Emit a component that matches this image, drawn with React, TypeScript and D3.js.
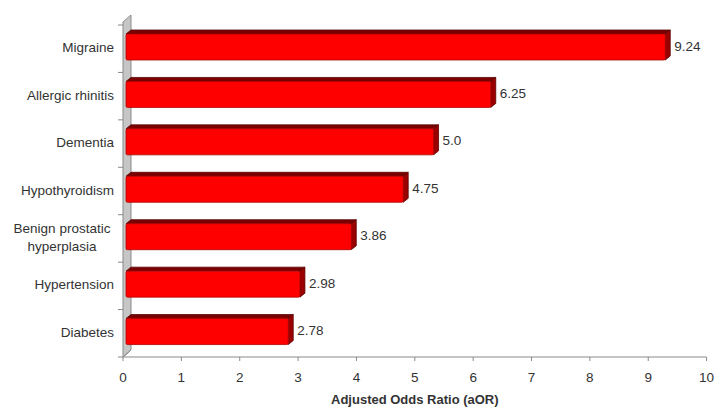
import React from "react";
import * as d3 from "d3";

const categories = [
  "Migraine",
  "Allergic rhinitis",
  "Dementia",
  "Hypothyroidism",
  "Benign prostatic\nhyperplasia",
  "Hypertension",
  "Diabetes",
];
// bar lengths as drawn in the picture
const values = [9.24, 6.25, 5.27, 4.75, 3.86, 2.98, 2.78];
// value labels as printed in the picture
const valueLabels = ["9.24", "6.25", "5.0", "4.75", "3.86", "2.98", "2.78"];
const xTicks = [0, 1, 2, 3, 4, 5, 6, 7, 8, 9, 10];
const xTitle = "Adjusted Odds Ratio (aOR)";

const W = 715;
const H = 410;
const FONT = "'Liberation Sans', Arial, sans-serif";
const FS = 13.5;

export default function App() {
  const x = d3.scaleLinear().domain([0, 10]).range([123, 706.6]);
  const y = d3.scaleBand<string>().domain(categories).range([25, 357]);
  const bw = y.bandwidth();
  const axisY = y.range()[1];
  const x0 = x(0);
  const wallDx = 8, wallDy = 7;
  const offX = 3;
  const bDx = 5, bDy = 4;

  const wall = [
    [x0, y.range()[0] - 3],
    [x0 + wallDx, y.range()[0] - 3 - wallDy],
    [x0 + wallDx, axisY - wallDy],
    [x0, axisY],
  ];

  return (
    <svg width={W} height={H} style={{ position: "absolute", left: 0, top: 0, background: "#fff" }}
      fontFamily={FONT}>
      <rect x={0} y={0} width={W} height={H} fill="#fff" />
      <polygon points={wall.map((p) => p.join(",")).join(" ")} fill="#c6c6c6" stroke="#8a8a8a" strokeWidth={1} />
      <line x1={x0} y1={axisY} x2={x0 + wallDx} y2={axisY - wallDy} stroke="#8a8a8a" />
      {categories.map((c) => (
        <line key={"t" + c} x1={x0 - 5} x2={x0} y1={y(c)!} y2={y(c)!} stroke="#888" />
      ))}
      <line x1={x0 - 5} x2={x0} y1={axisY} y2={axisY} stroke="#888" />
      <line x1={x0} x2={x(10)} y1={axisY} y2={axisY} stroke="#8a8a8a" strokeWidth={1.2} />
      {xTicks.map((t) => (
        <g key={"x" + t}>
          <line x1={x(t)} x2={x(t)} y1={axisY} y2={axisY + 4} stroke="#8a8a8a" />
          <text x={x(t)} y={axisY + 25} textAnchor="middle" fontSize={FS} fill="#333">
            {t}
          </text>
        </g>
      ))}
      <text x={(x(0) + x(10)) / 2} y={axisY + 47} textAnchor="middle" fontSize={13} fontWeight="bold" fill="#333">
        {xTitle}
      </text>
      {categories.map((c, i) => {
        const top = y(c)! + 9;
        const bot = y(c)! + 35;
        const xs = x0 + offX;
        const xe = x(values[i]) + offX;
        const topFace = [
          [xs, top],
          [xs + bDx, top - bDy],
          [xe + bDx, top - bDy],
          [xe, top],
        ];
        const rightFace = [
          [xe, top],
          [xe + bDx, top - bDy],
          [xe + bDx, bot - bDy],
          [xe, bot],
        ];
        return (
          <g key={"b" + c}>
            <polygon points={topFace.map((p) => p.join(",")).join(" ")} fill="#7a0000" stroke="#5a0000" strokeWidth={0.8} />
            <polygon points={rightFace.map((p) => p.join(",")).join(" ")} fill="#9a0000" stroke="#5a0000" strokeWidth={0.8} />
            <rect x={xs} y={top} width={xe - xs} height={bot - top} fill="#ff0000" stroke="#b00000" strokeWidth={0.8} rx={1.5} />
            <text x={xe + bDx + 4} y={(top + bot) / 2} dominantBaseline="middle" fontSize={FS} fill="#333">
              {valueLabels[i]}
            </text>
          </g>
        );
      })}
      {categories.map((c) => {
        const lines = c.split("\n");
        const cy = y(c)! + bw / 2;
        if (lines.length === 1) {
          return (
            <text key={"l" + c} x={114} y={cy} textAnchor="end" dominantBaseline="middle" fontSize={FS} fill="#333">
              {c}
            </text>
          );
        }
        return (
          <text key={"l" + c} x={62} y={cy - 9} textAnchor="middle" fontSize={FS} fill="#333">
            {lines.map((ln, k) => (
              <tspan key={k} x={62} dy={k === 0 ? 0 : 18} dominantBaseline="middle">
                {ln}
              </tspan>
            ))}
          </text>
        );
      })}
    </svg>
  );
}
